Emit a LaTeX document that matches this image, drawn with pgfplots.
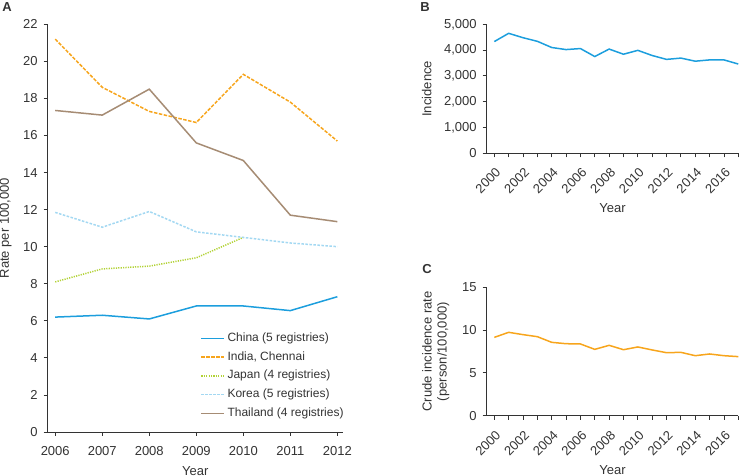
\documentclass[border=0pt]{standalone}
\usepackage{fontspec}
\setmainfont{Liberation Sans}
\usepackage{pgfplots}
\pgfplotsset{compat=1.18}
\definecolor{chinablue}{HTML}{1C9EDD}
\definecolor{indiaorange}{HTML}{F7A51C}
\definecolor{japangreen}{HTML}{B2D236}
\definecolor{korealblue}{HTML}{A3D8F2}
\definecolor{thaibrown}{HTML}{A68C74}
\definecolor{axisgray}{HTML}{333333}

\pgfplotsset{
  panel/.style={
    scale only axis,
    axis lines*=left,
    axis line style={axisgray, line width=0.8pt, -},
    tick style={axisgray, line width=0.8pt},
    tick align=outside,
    major tick length=4pt,
    ytick pos=left, xtick pos=bottom,
    /pgf/number format/assume math mode=true,
    ticklabel style={font=\fontsize{13}{15}\selectfont, text=axisgray},
    label style={font=\fontsize{13}{15}\selectfont, text=axisgray},
    xticklabel style={/pgf/number format/1000 sep={}},
    yticklabel style={xshift=-2.5pt},
    scaled ticks=false,
  },
  rotlabels/.style={
    xticklabel style={xshift=4pt, yshift=-13pt, rotate=45, anchor=east, inner sep=0pt},
  },
}

\begin{document}
\begin{tikzpicture}
\path[use as bounding box] (0pt,0pt) rectangle (748pt,476pt);

% Panel A
\begin{axis}[
  panel,
  at={(47.7pt,44pt)}, anchor=south west,
  width=295.3pt, height=407.7pt,
  xmin=2005.84, xmax=2012.12,
  ymin=0, ymax=22,
  xtick={2006,...,2012},
  ytick={0,2,...,22},
  xticklabel style={yshift=-7pt},
  xlabel={Year},
  ylabel={Rate per 100,000},
  xlabel style={at={(axis description cs:0.5,-0.095)}, anchor=center},
  ylabel style={at={(axis description cs:-0.142,0.5)}, anchor=center},
  legend image code/.code={\draw[#1] (0pt,0pt) -- (23pt,0pt);},
  legend style={at={(axis description cs:0.517,0.251)}, anchor=north west,
    draw=none, fill=none, font=\fontsize{12}{14}\selectfont,
    text=axisgray, row sep=1.75pt, inner sep=0pt,
    nodes={inner sep=2.5pt, text height=9pt, text depth=3pt}},
  legend cell align=left,
]
\addplot[chinablue, line width=1.5pt] coordinates {
  (2006,6.2) (2007,6.3) (2008,6.1) (2009,6.8) (2010,6.8) (2011,6.55) (2012,7.3)};
\addlegendentry{China (5 registries)}
\addplot[indiaorange, line width=1.5pt, dash pattern=on 3.5pt off 1.5pt] coordinates {
  (2006,21.2) (2007,18.6) (2008,17.3) (2009,16.7) (2010,19.3) (2011,17.8) (2012,15.7)};
\addlegendentry{India, Chennai}
\addplot[japangreen, line width=1.5pt, dash pattern=on 1.2pt off 1.2pt] coordinates {
  (2006,8.1) (2007,8.8) (2008,8.95) (2009,9.4) (2010,10.5)};
\addlegendentry{Japan (4 registries)}
\addplot[korealblue, line width=1.5pt, dash pattern=on 2.5pt off 1.5pt] coordinates {
  (2006,11.85) (2007,11.05) (2008,11.9) (2009,10.8) (2010,10.5) (2011,10.2) (2012,10.0)};
\addlegendentry{Korea (5 registries)}
\addplot[thaibrown, line width=1.5pt] coordinates {
  (2006,17.35) (2007,17.1) (2008,18.5) (2009,15.6) (2010,14.65) (2011,11.7) (2012,11.35)};
\addlegendentry{Thailand (4 registries)}
\end{axis}

% Panel B
\begin{axis}[
  panel, rotlabels,
  at={(486.7pt,322.7pt)}, anchor=south west,
  width=251.6pt, height=129pt,
  xmin=1999.47, xmax=2017,
  ymin=0, ymax=5000,
  xtick={2000,...,2017},
  xticklabels={2000,,2002,,2004,,2006,,2008,,2010,,2012,,2014,,2016,},
  ytick={0,1000,...,5000},
  yticklabel style={/pgf/number format/1000 sep={,}},
  xlabel={Year},
  ylabel={Incidence},
  xlabel style={at={(axis description cs:0.5,-0.422)}, anchor=center},
  ylabel style={at={(axis description cs:-0.238,0.5)}, anchor=center},
]
\addplot[chinablue, line width=1.5pt] coordinates {
  (2000,4330) (2001,4650) (2002,4480) (2003,4340) (2004,4100) (2005,4020)
  (2006,4060) (2007,3750) (2008,4040) (2009,3840) (2010,3990) (2011,3790)
  (2012,3640) (2013,3690) (2014,3570) (2015,3620) (2016,3620) (2017,3460)};
\end{axis}

% Panel C
\begin{axis}[
  panel, rotlabels,
  at={(486.7pt,60.3pt)}, anchor=south west,
  width=251.6pt, height=128.4pt,
  xmin=1999.47, xmax=2017,
  ymin=0, ymax=15,
  xtick={2000,...,2017},
  xticklabels={2000,,2002,,2004,,2006,,2008,,2010,,2012,,2014,,2016,},
  ytick={0,5,10,15},
  xlabel={Year},
  ylabel={Crude incidence rate\\(person/100,000)},
  xlabel style={at={(axis description cs:0.5,-0.423)}, anchor=center},
  ylabel style={at={(axis description cs:-0.202,0.5)}, anchor=center, align=center},
]
\addplot[indiaorange, line width=1.5pt] coordinates {
  (2000,9.15) (2001,9.74) (2002,9.47) (2003,9.23) (2004,8.57) (2005,8.41)
  (2006,8.38) (2007,7.75) (2008,8.22) (2009,7.71) (2010,8.03) (2011,7.68)
  (2012,7.36) (2013,7.40) (2014,7.01) (2015,7.21) (2016,7.01) (2017,6.90)};
\end{axis}

\node[font=\fontsize{13}{15}\selectfont\bfseries, text=axisgray] at (7pt,469pt) {A};
\node[font=\fontsize{13}{15}\selectfont\bfseries, text=axisgray] at (425pt,469pt) {B};
\node[font=\fontsize{13}{15}\selectfont\bfseries, text=axisgray] at (427pt,207pt) {C};
\end{tikzpicture}
\end{document}
